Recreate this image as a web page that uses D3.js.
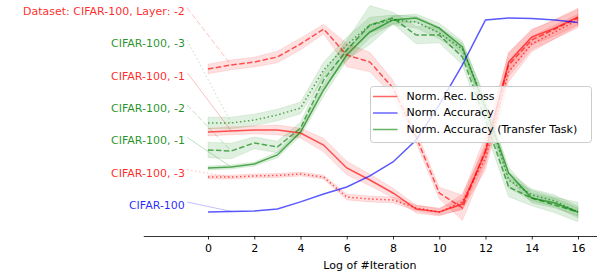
<!DOCTYPE html>
<html>
<head>
<meta charset="utf-8">
<script src="https://cdn.jsdelivr.net/npm/d3@7"></script>
<style>
  body { margin: 0; background: #fff; }
  text { font-family: "DejaVu Sans", sans-serif; }
</style>
</head>
<body>
<div id="chart"></div>
<script>
// x values (log of #iteration)
const iterations = [0, 1, 2, 3, 4, 5, 6, 7, 8, 9, 10, 11, 12, 13, 14, 15, 16];
const xTicks = [0, 2, 4, 6, 8, 10, 12, 14, 16];

// Norm. Accuracy (CIFAR-100)
const accuracy = [0, 0.003, 0.005, 0.015, 0.052, 0.093, 0.129, 0.186, 0.258, 0.371, 0.552, 0.758, 0.99, 1.0, 0.997, 0.99, 0.977];

// Norm. Rec. Loss, layers -1, -2, -3
const recLoss1 = [0.412, 0.418, 0.423, 0.423, 0.407, 0.345, 0.227, 0.165, 0.098, 0.015, 0, 0.041, 0.309, 0.773, 0.902, 0.948, 1.005];
const recLoss2 = [0.737, 0.758, 0.773, 0.799, 0.866, 0.943, 0.809, 0.773, 0.639, 0.387, 0.098, 0.021, 0.32, 0.758, 0.887, 0.943, 1.0];
const recLoss3 = [0.18, 0.18, 0.186, 0.188, 0.196, 0.18, 0.077, 0.067, 0.062, 0.021, 0, 0.052, 0.278, 0.722, 0.866, 0.928, 0.99];
const recLossStd1 = [0.02, 0.02, 0.02, 0.025, 0.025, 0.035, 0.035, 0.03, 0.025, 0.02, 0.02, 0.025, 0.05, 0.05, 0.04, 0.04, 0.04];
const recLossStd2 = [0.025, 0.025, 0.025, 0.03, 0.03, 0.025, 0.06, 0.05, 0.04, 0.03, 0.03, 0.065, 0.075, 0.06, 0.05, 0.05, 0.05];
const recLossStd3 = [0.01, 0.01, 0.01, 0.01, 0.01, 0.01, 0.015, 0.015, 0.015, 0.015, 0.015, 0.04, 0.06, 0.05, 0.04, 0.035, 0.03];

// Norm. Accuracy (Transfer Task), layers -1, -2, -3
const transfer1 = [0.227, 0.232, 0.247, 0.294, 0.412, 0.629, 0.809, 0.928, 0.99, 1.0, 0.948, 0.851, 0.536, 0.201, 0.072, 0.046, 0];
const transfer2 = [0.32, 0.314, 0.356, 0.335, 0.433, 0.68, 0.835, 0.964, 1.0, 0.912, 0.912, 0.799, 0.474, 0.129, 0.072, 0.036, 0];
const transfer3 = [0.459, 0.459, 0.474, 0.5, 0.536, 0.732, 0.861, 0.964, 0.99, 0.979, 0.923, 0.84, 0.552, 0.165, 0.088, 0.057, 0];
const transferStd1 = [0.01, 0.01, 0.01, 0.015, 0.02, 0.03, 0.03, 0.03, 0.02, 0.02, 0.025, 0.03, 0.04, 0.03, 0.025, 0.025, 0.02];
const transferStd2 = [0.04, 0.04, 0.03, 0.03, 0.03, 0.04, 0.05, 0.1, 0.03, 0.045, 0.04, 0.04, 0.05, 0.05, 0.04, 0.04, 0.05];
const transferStd3 = [0.03, 0.03, 0.03, 0.03, 0.03, 0.04, 0.04, 0.04, 0.025, 0.03, 0.03, 0.03, 0.04, 0.04, 0.03, 0.03, 0.03];

// labels on the left, top to bottom
const labelTexts = ["Dataset: CIFAR-100, Layer: -2", "CIFAR-100, -3", "CIFAR-100, -1", "CIFAR-100, -2", "CIFAR-100, -1", "CIFAR-100, -3", "CIFAR-100"];
const legendNames = ["Norm. Rec. Loss", "Norm. Accuracy", "Norm. Accuracy (Transfer Task)"];

const RED = "#ff0000", BLUE = "#0000ff", GREEN = "#008000";
const DASHES = { solid: null, dashed: "5.5,2.4", dotted: "1.5,2.5" };

// series list (drawing order)
const series = [
  { values: recLoss1, std: recLossStd1, color: RED, style: "solid" },
  { values: recLoss2, std: recLossStd2, color: RED, style: "dashed" },
  { values: recLoss3, std: recLossStd3, color: RED, style: "dotted" },
  { values: transfer1, std: transferStd1, color: GREEN, style: "solid" },
  { values: transfer2, std: transferStd2, color: GREEN, style: "dashed" },
  { values: transfer3, std: transferStd3, color: GREEN, style: "dotted" },
  { values: accuracy, std: null, color: BLUE, style: "solid" },
];

// which series each left label points to
const labelSeries = [series[1], series[5], series[0], series[4], series[3], series[2], series[6]];

const width = 603, height = 275;
const svg = d3.select("#chart").append("svg")
  .attr("width", width)
  .attr("height", height);

const x = d3.scaleLinear().domain([-2.8, 16.8]).range([143.25, 596.5]);
const y = d3.scaleLinear().domain([0, 1]).range([212, 18]);
const axisY = 236;

const line = d3.line().x((d, i) => x(iterations[i])).y((d) => y(d));
const area = d3.area()
  .x((d) => x(d.x))
  .y0((d) => y(d.v - d.s))
  .y1((d) => y(d.v + d.s));

// std bands
series.filter((s) => s.std).forEach((s) => {
  const pts = s.values.map((v, i) => ({ x: iterations[i], v: v, s: s.std[i] }));
  svg.append("path")
    .attr("d", area(pts))
    .attr("fill", s.color)
    .attr("fill-opacity", 0.12)
    .attr("stroke", s.color)
    .attr("stroke-opacity", 0.1)
    .attr("stroke-width", 1);
});

// lines
series.forEach((s) => {
  svg.append("path")
    .attr("d", line(s.values))
    .attr("fill", "none")
    .attr("stroke", s.color)
    .attr("stroke-opacity", 0.65)
    .attr("stroke-width", 1.5)
    .attr("stroke-dasharray", DASHES[s.style]);
});

// left labels with connector lines to the point at x = 1
labelTexts.forEach((t, k) => {
  const s = labelSeries[k];
  const ly = y((6 - k) / 6);
  svg.append("text")
    .attr("x", x(-1))
    .attr("y", ly - 6)
    .attr("text-anchor", "end")
    .attr("dominant-baseline", "middle")
    .attr("font-size", 11)
    .attr("fill", s.color)
    .attr("fill-opacity", 0.85)
    .text(t);
  svg.append("line")
    .attr("x1", x(-0.9))
    .attr("y1", ly - 10)
    .attr("x2", x(1))
    .attr("y2", y(s.values[1]))
    .attr("stroke", s.color)
    .attr("stroke-opacity", 0.25)
    .attr("stroke-width", 1)
    .attr("stroke-dasharray", DASHES[s.style]);
});

// bottom axis
const xAxis = svg.append("g")
  .attr("transform", `translate(0,${axisY})`)
  .call(d3.axisBottom(x).tickValues(xTicks).tickSize(3.5).tickPadding(5).tickSizeOuter(0));
xAxis.select(".domain").attr("stroke", "#000").attr("stroke-width", 0.8);
xAxis.selectAll(".tick line").attr("stroke", "#000").attr("stroke-width", 0.8);
xAxis.selectAll("text")
  .attr("font-family", "DejaVu Sans")
  .attr("font-size", 11)
  .attr("fill", "#000");

svg.append("text")
  .attr("x", (x(-2.8) + x(16.8)) / 2)
  .attr("y", 269)
  .attr("text-anchor", "middle")
  .attr("font-size", 11)
  .attr("fill", "#000")
  .text("Log of #Iteration");

// legend
const legend = svg.append("g").attr("transform", "translate(370.5,86.5)");
legend.append("rect")
  .attr("width", 221)
  .attr("height", 56)
  .attr("rx", 3)
  .attr("fill", "#fff")
  .attr("fill-opacity", 0.8)
  .attr("stroke", "#cccccc")
  .attr("stroke-width", 1);
const legendColors = [RED, BLUE, GREEN];
legendNames.forEach((name, i) => {
  const ry = 10 + i * 16.5;
  legend.append("line")
    .attr("x1", 2.5).attr("x2", 27)
    .attr("y1", ry).attr("y2", ry)
    .attr("stroke", legendColors[i])
    .attr("stroke-opacity", 0.6)
    .attr("stroke-width", 1.5);
  legend.append("text")
    .attr("x", 36)
    .attr("y", ry)
    .attr("dominant-baseline", "middle")
    .attr("font-size", 11)
    .attr("fill", "#000")
    .text(name);
});
</script>
</body>
</html>
